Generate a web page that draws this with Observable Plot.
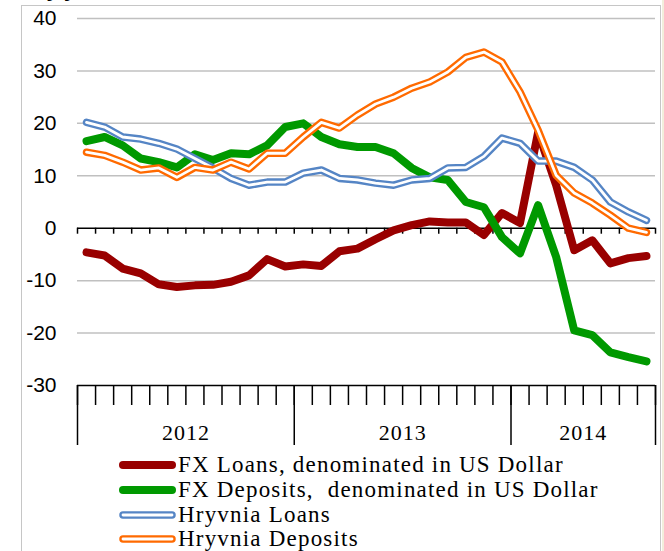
<!DOCTYPE html>
<html>
<head>
<meta charset="utf-8">
<script src="https://cdn.jsdelivr.net/npm/d3@7"></script>
<script src="https://cdn.jsdelivr.net/npm/@observablehq/plot@0.6"></script>
<style>
  html, body { margin: 0; padding: 0; background: #fff; }
  #wrap { position: relative; width: 664px; height: 551px; overflow: hidden; background: #fff; }
  #frame { position: absolute; left: 21px; top: 5px; width: 638px; height: 600px; border: 1.5px solid #c6c6c6; }
  #strip { position: absolute; left: 662px; top: 0; width: 2px; height: 551px; background: #f2eedc; }
  #title { position: absolute; left: 22px; top: -22px; font: bold 21px "Liberation Sans", Arial, sans-serif; color: #000; }
  #chart { position: absolute; left: 0; top: 0; }
  .leg { position: absolute; left: 117px; height: 24px; display: flex; align-items: center; font-family: "Liberation Serif", "Times New Roman", serif; font-size: 23px; letter-spacing: 1.2px; color: #000; white-space: pre; }
  .leg svg { width: 61px; height: 14px; }
</style>
</head>
<body>
<div id="wrap">
  <div id="frame"></div>
  <div id="strip"></div>
  <div id="title">% y/y</div>
  <div id="chart"></div>
  <div id="legend"></div>
</div>
<script>
// Months Jan 2012 .. Aug 2014
const months = ["2012-01","2012-02","2012-03","2012-04","2012-05","2012-06","2012-07","2012-08","2012-09","2012-10","2012-11","2012-12",
                "2013-01","2013-02","2013-03","2013-04","2013-05","2013-06","2013-07","2013-08","2013-09","2013-10","2013-11","2013-12",
                "2014-01","2014-02","2014-03","2014-04","2014-05","2014-06","2014-07","2014-08"];
const years = ["2012", "2013", "2014"];
const yTicks = [-30, -20, -10, 0, 10, 20, 30, 40];

const fxLoans = [-4.6,-5.2,-7.7,-8.6,-10.7,-11.2,-10.9,-10.8,-10.2,-9.0,-5.9,-7.3,-6.9,-7.2,-4.4,-3.9,-2.1,-0.4,0.6,1.3,1.1,1.1,-1.3,2.9,1.0,18.3,8.2,-4.2,-2.3,-6.7,-5.7,-5.3];
const fxDeposits = [16.6,17.4,15.8,13.3,12.6,11.6,14.1,13.0,14.3,14.1,15.8,19.3,20.0,17.4,16.0,15.5,15.5,14.3,11.5,9.7,9.2,5.0,4.0,-1.7,-4.8,4.4,-5.5,-19.5,-20.4,-23.7,-24.6,-25.4];
const uahLoans = [20.2,19.3,17.4,17.0,16.2,15.1,13.3,11.5,9.5,8.2,8.8,8.8,10.5,11.1,9.5,9.2,8.6,8.2,9.2,9.5,11.5,11.6,13.7,17.2,16.2,12.8,12.8,11.6,9.2,5.0,3.1,1.5];
const uahDeposits = [14.5,13.9,12.6,11.1,11.5,9.7,11.6,11.1,12.6,11.3,14.3,14.3,17.4,20.2,19.1,21.6,23.7,25.0,26.7,27.9,29.8,32.6,33.6,31.7,26.0,18.7,10.1,6.7,4.8,2.5,0.0,-0.8];

const seriesNames = ["FX Loans, denominated in US Dollar", "FX Deposits,  denominated in US Dollar", "Hryvnia Loans", "Hryvnia Deposits"];
const seriesColors = ["#990000", "#009900", "#5585c5", "#ff6a00"];
const seriesDouble = [false, false, true, true];
const seriesValues = [fxLoans, fxDeposits, uahLoans, uahDeposits];

// derived helpers
const idx = months.map((m, i) => i);
const bounds = d3.range(months.length + 1).map(i => i - 0.5);
const yearOf = months.map(m => m.slice(0, 4));
const yearBounds = [-0.5];
const yearMids = [];
years.forEach(y => {
  const ii = idx.filter(i => yearOf[i] === y);
  yearMids.push((ii[0] + ii[ii.length - 1]) / 2);
  yearBounds.push(ii[ii.length - 1] + 0.5);
});

const marks = [
  Plot.ruleY(yTicks.filter(v => v !== 0 && v !== -30), {stroke: "#c0c0c0", strokeWidth: 1.5}),
  Plot.axisY(yTicks, {tickSize: 0, tickPadding: 21, fontSize: 21, fontFamily: "Liberation Sans, Arial, sans-serif", label: null, tickFormat: d => String(d), color: "#000"}),
  Plot.ruleY([0], {stroke: "#000", strokeWidth: 1.5}),
  Plot.ruleX(bounds, {x: d => d, y1: 0, y2: 0, insetBottom: -6, stroke: "#000", strokeWidth: 1.5}),
  Plot.ruleY([-30], {stroke: "#000", strokeWidth: 1.5}),
  Plot.axisX(bounds, {anchor: "bottom", tickSize: 20, tickFormat: () => "", strokeWidth: 1.5, label: null, color: "#000"}),
  Plot.axisX(yearBounds, {anchor: "bottom", tickSize: 60, tickFormat: () => "", strokeWidth: 1.5, label: null, color: "#000"}),
  Plot.axisX(yearMids, {anchor: "bottom", tickSize: 0, tickPadding: 39, tickFormat: (d, i) => years[i], fontSize: 22, fontFamily: "Liberation Serif, Times New Roman, serif", label: null, color: "#000"})
];

seriesValues.forEach((vals, s) => {
  const data = vals.map((v, i) => ({i, v}));
  if (seriesDouble[s]) {
    marks.push(Plot.line(data, {x: "i", y: "v", stroke: seriesColors[s], strokeWidth: 7.5, strokeLinejoin: "round", strokeLinecap: "round"}));
    marks.push(Plot.line(data, {x: "i", y: "v", stroke: "#fff", strokeWidth: 2.8, strokeLinejoin: "round", strokeLinecap: "round"}));
  } else {
    marks.push(Plot.line(data, {x: "i", y: "v", stroke: seriesColors[s], strokeWidth: 8, strokeLinejoin: "round", strokeLinecap: "round"}));
  }
});

const chart = Plot.plot({
  width: 664,
  height: 452,
  marginLeft: 77,
  marginRight: 9,
  marginTop: 18,
  marginBottom: 67,
  x: {type: "linear", domain: [-0.5, months.length - 0.5]},
  y: {domain: [-30, 40]},
  style: {background: "transparent", overflow: "visible"},
  marks
});
chart.querySelectorAll("[aria-label='x-axis tick label'] text").forEach(t => t.setAttribute("letter-spacing", "1"));
document.getElementById("chart").appendChild(chart);

// legend
const legend = document.getElementById("legend");
const rowCenters = [465, 490, 515, 539];
seriesNames.forEach((name, s) => {
  const row = document.createElement("div");
  row.className = "leg";
  row.style.top = (rowCenters[s] - 12) + "px";
  const inner = seriesDouble[s]
    ? `<line x1="6" y1="7" x2="55" y2="7" stroke="${seriesColors[s]}" stroke-width="7.5" stroke-linecap="round"/><line x1="6" y1="7" x2="55" y2="7" stroke="#fff" stroke-width="2.8" stroke-linecap="round"/>`
    : `<line x1="6" y1="7" x2="55" y2="7" stroke="${seriesColors[s]}" stroke-width="8" stroke-linecap="round"/>`;
  row.innerHTML = `<svg viewBox="0 0 61 14">${inner}</svg><span>${name}</span>`;
  legend.appendChild(row);
});
</script>
</body>
</html>
